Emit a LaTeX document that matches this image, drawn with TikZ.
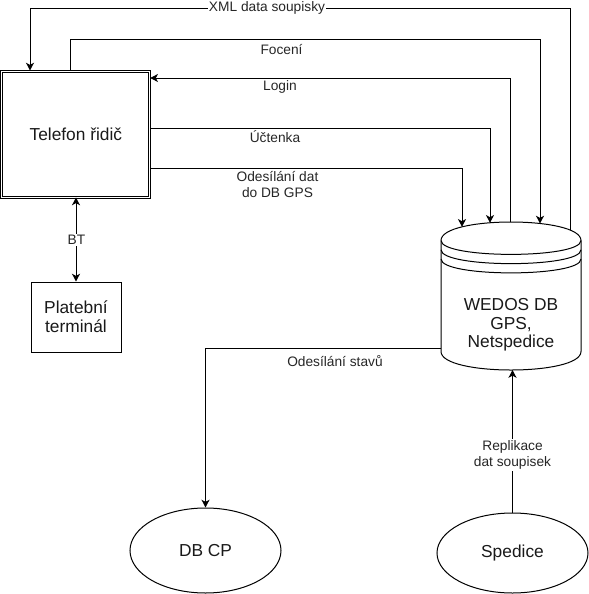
\documentclass[tikz,border=0pt]{standalone}
\usepackage{fontspec}
\setmainfont{Liberation Sans}
\usetikzlibrary{arrows.meta,shapes.geometric}
\begin{document}
\begin{tikzpicture}[x=0.75pt,y=-0.75pt, line width=0.75pt,
  arr/.style={-{Stealth[length=5.8pt,width=6pt,inset=1.6pt]}},
  barr/.style={{Stealth[length=5.8pt,width=6pt,inset=1.6pt]}-{Stealth[length=5.8pt,width=6pt,inset=1.6pt]}},
  lbl/.style={font=\fontsize{10.3}{12}\selectfont, text=black!85, inner sep=1pt, align=center},
  big/.style={font=\fontsize{13}{14}\selectfont, align=center, text=black!90}]
\useasboundingbox (0,0) rectangle (589,594);

% nodes
\node[big, draw, double, double distance=0.75pt, minimum width=110.8pt, minimum height=94.5pt, inner sep=0pt] (phone) at (75.85,134) {Telefon řidič};
\node[big, draw, minimum width=67.5pt, minimum height=52.5pt, inner sep=0pt] (term) at (76,317) {Platební\\terminál};
\node[big, draw, ellipse, minimum width=113.25pt, minimum height=63.75pt, inner sep=0pt] (dbcp) at (205.5,550.5) {DB CP};
\node[big, draw, ellipse, minimum width=113.25pt, minimum height=60pt, inner sep=0pt] (sped) at (512.5,553) {Spedice};

% data store cylinder
\draw (441,240.5) .. controls (441,215.83) and (581,215.83) .. (581,240.5) -- (581,351.5)
      .. controls (581,376.17) and (441,376.17) .. (441,351.5) -- cycle;
\draw (441,240.5) .. controls (441,259) and (581,259) .. (581,240.5);
\draw (441,249.75) .. controls (441,268.25) and (581,268.25) .. (581,249.75);
\draw (441,259) .. controls (441,277.5) and (581,277.5) .. (581,259);
\node[big] (db) at (511,325) {WEDOS DB\\GPS,\\Netspedice};

% connection points
\coordinate (dbO) at (462,226.8);
\coordinate (dbU) at (490,222.8);
\coordinate (dbL) at (510,222);
\coordinate (dbF) at (540,223.5);
\coordinate (dbX) at (570,230);
\coordinate (dbW) at (441,348);
\coordinate (dbS) at (512.5,370);
\coordinate (cX) at (30,8);
\coordinate (cF) at (70,39);
\coordinate (cL) at (0,78);
\coordinate (cU) at (0,128);
\coordinate (cO) at (0,168);

% connectors
\draw[arr] (dbX) |- (cX) -- (cX |- phone.north);
\draw[arr] (cF |- phone.north) |- (dbF |- cF) -- (dbF);
\draw[arr] (dbL) |- (phone.east |- cL);
\draw[arr] (phone.east |- cU) -| (dbU);
\draw[arr] (phone.east |- cO) -| (dbO);
\draw[arr] (dbW) -| (dbcp.north);
\draw[arr] (sped.north) -- (dbS);
\draw[barr] (term.north) -- (term.north |- phone.south);

% labels
\node[lbl, fill=white] (lX) at (267,8) {XML data soupisky};
\node[lbl] (lF) at (281.5,50) {Focení};
\node[lbl] (lL) at (280,87) {Login};
\node[lbl] (lU) at (275,137) {Účtenka};
\node[lbl] (lO) at (277.5,185) {Odesílání dat\\do DB GPS};
\node[lbl] (lS) at (335,361) {Odesílání stavů};
\node[lbl, fill=white] (lB) at (76.5,240) {BT};
\node[lbl, fill=white] (lR) at (512.5,455) {Replikace\\dat soupisek};
\end{tikzpicture}
\end{document}
